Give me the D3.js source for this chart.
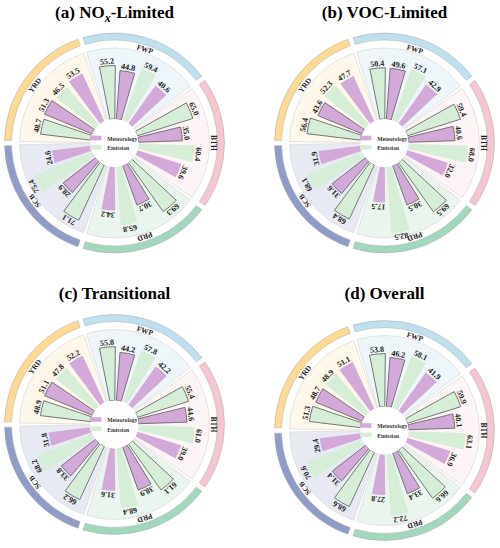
<!DOCTYPE html>
<html>
<head>
<meta charset="utf-8">
<script src="https://cdn.jsdelivr.net/npm/d3@7"></script>
<style>
  body { margin: 0; background: #fff; }
  svg { display: block; }
  text { font-family: "Liberation Serif", "Times New Roman", serif; font-weight: bold; }
</style>
</head>
<body>
<div id="chart-area"></div>
<script>
// Data
const regions = ["FWP", "BTH", "PRD", "SCB", "YRD"]
const barTypes = ["Emission", "Meteorology", "Emission", "Meteorology"]
const outlined = [true, true, false, false]

const noxLimited   = [[55.2, 44.8, 59.4, 40.6], [65.0, 35.0, 60.4, 39.6], [69.3, 30.7, 65.8, 34.2], [71.1, 28.9, 75.4, 24.6], [48.7, 51.3, 46.5, 53.5]]
const vocLimited   = [[50.4, 49.6, 57.1, 42.9], [59.4, 40.6, 68.0, 32.0], [69.5, 30.5, 82.5, 17.5], [68.4, 31.6, 68.1, 31.9], [56.4, 43.6, 52.3, 47.7]]
const transitional = [[55.8, 44.2, 57.8, 42.2], [55.4, 44.6, 61.0, 39.0], [61.1, 38.9, 68.4, 31.6], [66.2, 33.8, 68.2, 31.8], [48.9, 51.1, 47.8, 52.2]]
const overall      = [[53.8, 46.2, 58.1, 41.9], [59.9, 40.1, 63.1, 36.9], [66.6, 33.4, 72.2, 27.8], [68.6, 31.4, 70.6, 29.4], [51.3, 48.7, 48.9, 51.1]]

const panelValues = [noxLimited, vocLimited, transitional, overall]
// title pieces: [before, subscript, after]
const panelTitles = [["(a) NO", "x", "-Limited"], ["(b) VOC-Limited", "", ""], ["(c) Transitional", "", ""], ["(d) Overall", "", ""]]
const legendItems = ["Meteorology", "Emission"]

// Styles
const barColor = { Emission: "#d6edd7", Meteorology: "#d3a9d9" }
const wedgeColor = { FWP: "#eef6fa", BTH: "#fdf4f5", PRD: "#eaf5ed", SCB: "#e7eaf3", YRD: "#fef8ea" }
const bandColor = { FWP: "#bee0ee", BTH: "#f5c5d0", PRD: "#a1d7bd", SCB: "#8e9cc7", YRD: "#fdd992" }

const WIDTH = 500
const HEIGHT = 548
const CENTERS = [[114.5, 143], [384.5, 143], [114.5, 424.5], [384.5, 430.5]]
const TITLE_Y = [18, 18, 299, 299]
const HOLE = 24
const deg = Math.PI / 180

const svg = d3.select("#chart-area").append("svg")
  .attr("width", WIDTH)
  .attr("height", HEIGHT)

// Scales (angles in degrees, clockwise from 12 o'clock)
const groupAngle = d3.scaleBand()
  .domain(regions)
  .range([-18, 342])
const barAngle = d3.scaleBand()
  .domain(d3.range(barTypes.length))
  .range([0, 72])
  .paddingInner(0.24)
  .paddingOuter(0.44)
const r = d3.scaleLinear()
  .domain([-108, 92])
  .range([0, 95])

const fmt = d3.format(".1f")
const polar = (a, rad) => [rad * Math.sin(a * deg), -rad * Math.cos(a * deg)]

const wedgeArc = d3.arc().innerRadius(0).outerRadius(95).padAngle(0.032).padRadius(95)
const bandArc = d3.arc().innerRadius(103).outerRadius(110).padAngle(0.05).padRadius(106)
const barArc = d3.arc()

panelValues.forEach((values, p) => {
  const [cx, cy] = CENTERS[p]

  // Title
  const title = svg.append("text")
    .attr("x", cx)
    .attr("y", TITLE_Y[p])
    .attr("text-anchor", "middle")
    .attr("font-size", "17px")
  title.append("tspan").text(panelTitles[p][0])
  if (panelTitles[p][1]) {
    title.append("tspan")
      .attr("font-style", "italic")
      .attr("font-size", "12px")
      .attr("dy", 4)
      .text(panelTitles[p][1])
    title.append("tspan")
      .attr("dy", -4)
      .text(panelTitles[p][2])
  }

  const g = svg.append("g")
    .attr("transform", `translate(${cx}, ${cy})`)

  // bars flattened
  const bars = []
  regions.forEach((reg, i) => {
    values[i].forEach((v, j) => {
      const a0 = groupAngle(reg) + barAngle(j)
      bars.push({ region: reg, type: barTypes[j], outline: outlined[j], value: v, a0: a0, a1: a0 + barAngle.bandwidth() })
    })
  })

  // Background wedges
  g.selectAll(".wedge")
    .data(regions)
    .enter().append("path")
    .attr("class", "wedge")
    .attr("d", d => wedgeArc({ startAngle: groupAngle(d) * deg, endAngle: (groupAngle(d) + groupAngle.bandwidth()) * deg }))
    .attr("fill", d => wedgeColor[d])
    .attr("stroke", "#dcdcdc")
    .attr("stroke-width", 0.8)

  // Bars
  g.selectAll(".bar")
    .data(bars)
    .enter().append("path")
    .attr("class", "bar")
    .attr("d", d => barArc({ innerRadius: HOLE, outerRadius: r(d.value), startAngle: d.a0 * deg, endAngle: d.a1 * deg }))
    .attr("fill", d => barColor[d.type])
    .attr("stroke", d => d.outline ? "#6a6a6a" : "none")
    .attr("stroke-width", 0.9)

  // Centre hole
  g.append("circle")
    .attr("r", HOLE)
    .attr("fill", "#fff")

  // Value labels
  g.selectAll(".val")
    .data(bars)
    .enter().append("text")
    .attr("class", "val")
    .attr("transform", d => {
      const a = (d.a0 + d.a1) / 2
      const [x, y] = polar(a, r(d.value) + 1.8)
      return `translate(${x}, ${y}) rotate(${a})`
    })
    .attr("text-anchor", "middle")
    .attr("font-size", "8px")
    .attr("fill", "#222")
    .text(d => fmt(d.value))

  // Outer bands
  g.selectAll(".band")
    .data(regions)
    .enter().append("path")
    .attr("class", "band")
    .attr("d", d => bandArc({ startAngle: groupAngle(d) * deg, endAngle: (groupAngle(d) + groupAngle.bandwidth()) * deg }))
    .attr("fill", d => bandColor[d])
    .attr("stroke", "#a8a8a8")
    .attr("stroke-width", 0.5)

  // Region labels
  g.selectAll(".reg")
    .data(regions)
    .enter().append("text")
    .attr("class", "reg")
    .attr("transform", d => {
      const a = groupAngle(d) + groupAngle.bandwidth() / 2
      const [x, y] = polar(a, 96)
      return `translate(${x}, ${y}) rotate(${a})`
    })
    .attr("text-anchor", "middle")
    .attr("font-size", "7.5px")
    .attr("fill", "#222")
    .text(d => d)

  // Legend
  const legend = g.append("g")
  legendItems.forEach((item, i) => {
    const row = legend.append("g")
      .attr("transform", `translate(-24.5, ${-7.3 + i * 9.3})`)
    row.append("rect")
      .attr("width", 11.5)
      .attr("height", 4.6)
      .attr("fill", barColor[item])
    row.append("text")
      .attr("x", 17.3)
      .attr("y", 5.2)
      .attr("font-size", "5.6px")
      .attr("fill", "#333")
      .text(item)
  })
})
</script>
</body>
</html>
